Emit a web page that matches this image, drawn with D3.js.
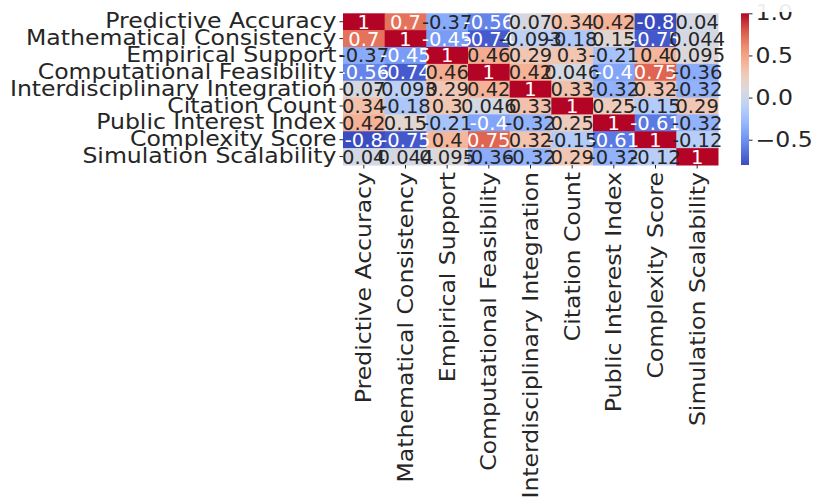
<!DOCTYPE html>
<head>
  <meta charset="utf-8">
  <script src="https://d3js.org/d3.v7.min.js"></script>
<style>
body, html {
    margin: 0;
    background: #fff;
}
svg text {
  font-family: "DejaVu Sans", sans-serif;
}
.lbl {
  fill: #262626;
  font-size: 20.5px;
}
.annot {
  font-size: 19.5px;
}
</style>
</head>
<body>
<div id="chart"></div>
<script>

var labels = ["Predictive Accuracy", "Mathematical Consistency", "Empirical Support",
  "Computational Feasibility", "Interdisciplinary Integration", "Citation Count",
  "Public Interest Index", "Complexity Score", "Simulation Scalability"];

var corr = [
  [1, 0.7, -0.37, -0.56, 0.07, 0.34, 0.42, -0.8, 0.04],
  [0.7, 1, -0.45, -0.74, -0.093, -0.18, 0.15, -0.75, 0.044],
  [-0.37, -0.45, 1, 0.46, 0.29, 0.3, -0.21, 0.4, 0.095],
  [-0.56, -0.74, 0.46, 1, 0.42, 0.046, -0.4, 0.75, -0.36],
  [0.07, -0.093, 0.29, 0.42, 1, 0.33, -0.32, 0.32, -0.32],
  [0.34, -0.18, 0.3, 0.046, 0.33, 1, 0.25, -0.15, 0.29],
  [0.42, 0.15, -0.21, -0.4, -0.32, 0.25, 1, -0.61, -0.32],
  [-0.8, -0.75, 0.4, 0.75, 0.32, -0.15, -0.61, 1, -0.12],
  [0.04, 0.044, 0.095, -0.36, -0.32, 0.29, -0.32, -0.12, 1]
];

var cbarTicks = [1.0, 0.5, 0.0, -0.5];

// coolwarm, sampled
var coolwarm = ["#3b4cc0", "#5977e3", "#7b9ff9", "#9ebeff", "#c0d4f5", "#dddcdc",
                "#f2cbb7", "#f7ac8e", "#ee8468", "#d65244", "#b40426"];
var vmin = -0.8, vmax = 1;
var interp = d3.interpolateRgbBasis(coolwarm);
var color = function(v) { return interp((v - vmin) / (vmax - vmin)); };

var stretch = 1.15; // the labels in the reference run a bit wide

var width = 814, height = 498;
var svg = d3.select("#chart").append("svg")
    .attr("width", width)
    .attr("height", height);

var top0 = 13.3, bot0 = 165;
var x = d3.scaleBand().domain(d3.range(9)).range([343, 718]);
var y = d3.scaleBand().domain(d3.range(9)).range([top0, bot0]);

var cells = [];
corr.forEach(function(row, i) {
  row.forEach(function(v, j) { cells.push({i: i, j: j, v: v}); });
});

svg.append("g").selectAll("rect")
  .data(cells)
  .enter().append("rect")
    .attr("x", function(d) { return x(d.j); })
    .attr("y", function(d) { return y(d.i); })
    .attr("width", x.bandwidth() + 0.5)
    .attr("height", y.bandwidth() + 0.5)
    .attr("fill", function(d) { return color(d.v); });

// seaborn picks text colour from cell luminance
function lum(c) {
  var rgb = d3.rgb(c);
  var f = function(u) { u = u / 255; return u <= 0.03928 ? u / 12.92 : Math.pow((u + 0.055) / 1.055, 2.4); };
  return 0.2126 * f(rgb.r) + 0.7152 * f(rgb.g) + 0.0722 * f(rgb.b);
}

svg.append("g").selectAll("text")
  .data(cells)
  .enter().append("text")
    .attr("class", "annot")
    .attr("x", function(d) { return x(d.j) + x.bandwidth() / 2; })
    .attr("y", function(d) { return y(d.i) + y.bandwidth() / 2; })
    .attr("dy", "0.36em")
    .attr("text-anchor", "middle")
    .attr("fill", function(d) { return lum(color(d.v)) > 0.408 ? "#262626" : "#ffffff"; })
    .text(function(d) { return String(d.v); });

// y axis
var yAxis = svg.append("g")
    .attr("transform", "translate(343,0)")
    .call(d3.axisLeft(y).tickSize(3.5).tickPadding(3).tickFormat(function(i) { return labels[i]; }));
yAxis.select(".domain").remove();
yAxis.selectAll("line").attr("stroke", "#262626");
yAxis.selectAll("text")
    .attr("class", "lbl")
    .attr("x", -6.5 / stretch)
    .attr("dy", "0.32em")
    .attr("transform", "scale(" + stretch + ",1)");

// x axis
var xAxis = svg.append("g")
    .attr("transform", "translate(0," + bot0 + ")")
    .call(d3.axisBottom(x).tickSize(3.5).tickPadding(3).tickFormat(function(i) { return labels[i]; }));
xAxis.select(".domain").remove();
xAxis.selectAll("line").attr("stroke", "#262626");
xAxis.selectAll("text")
    .attr("class", "lbl")
    .attr("transform", "rotate(-90) scale(" + stretch + ",1)")
    .attr("x", -7 / stretch)
    .attr("y", 0)
    .attr("dy", "0.36em")
    .style("text-anchor", "end");

// colorbar
var cbY = d3.scaleLinear().domain([vmin, vmax]).range([bot0, top0]);
var grad = svg.append("defs").append("linearGradient")
    .attr("id", "cb").attr("x1", 0).attr("y1", 1).attr("x2", 0).attr("y2", 0);
d3.range(0, 1.0001, 0.05).forEach(function(t) {
  grad.append("stop").attr("offset", t).attr("stop-color", interp(t));
});
svg.append("rect")
    .attr("x", 741).attr("y", top0)
    .attr("width", 8).attr("height", bot0 - top0)
    .attr("fill", "url(#cb)");

var cbAxis = svg.append("g")
    .attr("transform", "translate(749,0)")
    .call(d3.axisRight(cbY).tickValues(cbarTicks).tickSize(3.5).tickPadding(3)
      .tickFormat(function(v) { return d3.format(".1f")(v).replace("-", "\u2212"); }));
cbAxis.select(".domain").remove();
cbAxis.selectAll("line").attr("stroke", "#262626");
cbAxis.selectAll("text")
    .attr("class", "lbl")
    .attr("x", 6.5 / stretch)
    .attr("dy", "0.32em")
    .attr("transform", "scale(" + stretch + ",1)");

// faded strip at the very top, as in the reference
svg.append("rect")
    .attr("x", 0).attr("y", 0)
    .attr("width", width).attr("height", 12)
    .attr("fill", "#fff")
    .attr("opacity", 0.92);

</script>
</body>
